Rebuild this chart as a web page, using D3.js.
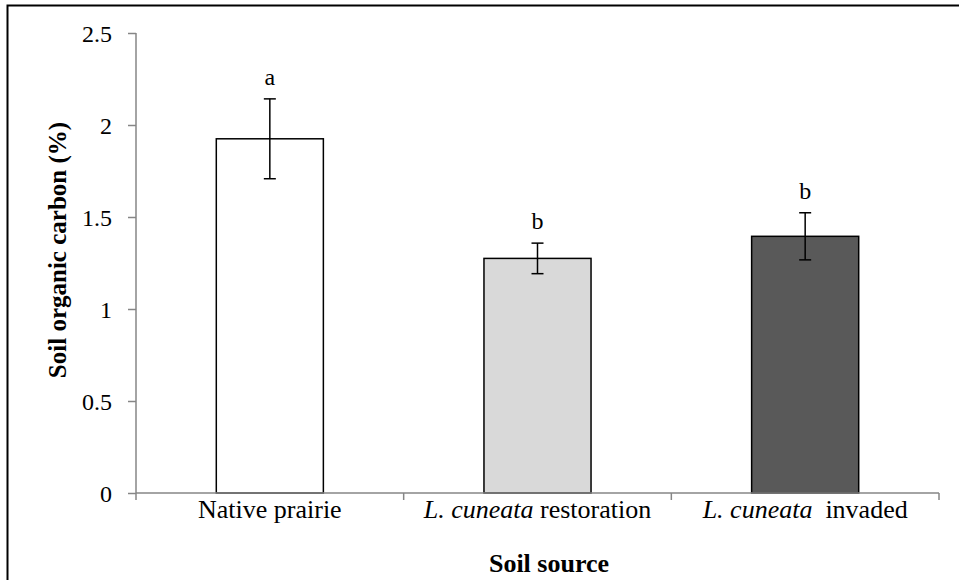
<!DOCTYPE html>
<html>
<head>
<meta charset="utf-8">
<script src="https://cdn.jsdelivr.net/npm/d3@7"></script>
<style>
  body { margin: 0; background: #fff; }
  text { font-family: "Liberation Serif", "Times New Roman", serif; fill: #000; }
</style>
</head>
<body>
<div id="chart-area"></div>
<script>
// data
var categories = ["Native prairie", "L. cuneata restoration", "L. cuneata invaded"];
var soc = [1.925, 1.275, 1.395];
var socErr = [0.217, 0.083, 0.128];
var letters = ["a", "b", "b"];
var barColours = ["#ffffff", "#d9d9d9", "#595959"];
var yTicks = [0, 0.5, 1, 1.5, 2, 2.5];

var width = 959, height = 580;
var margin = {top: 33, bottom: 87, left: 136, right: 20};

var svg = d3.select("#chart-area").append("svg")
    .attr("width", width)
    .attr("height", height);

// outer frame (cropped at right and bottom)
svg.append("rect")
    .attr("x", 7.5).attr("y", 5.5)
    .attr("width", 1000).attr("height", 1000)
    .attr("fill", "none")
    .attr("stroke", "#000")
    .attr("stroke-width", 2);

var x = d3.scaleBand()
    .domain(categories)
    .range([margin.left, width - margin.right])
    .paddingInner(0)
    .paddingOuter(0);

var y = d3.scaleLinear()
    .domain([0, 2.5])
    .range([height - margin.bottom, margin.top]);

var barW = x.bandwidth() * 0.4;

// bars
svg.selectAll("rect.bar")
    .data(categories)
    .enter().append("rect")
    .attr("class", "bar")
    .attr("x", (d) => x(d) + x.bandwidth() / 2 - barW / 2)
    .attr("y", (d, i) => y(soc[i]))
    .attr("width", barW)
    .attr("height", (d, i) => y(0) - y(soc[i]))
    .attr("fill", (d, i) => barColours[i])
    .attr("stroke", "#000")
    .attr("stroke-width", 1.5);

// error bars
var eb = svg.selectAll("g.err")
    .data(categories)
    .enter().append("g")
    .attr("class", "err")
    .attr("stroke", "#000")
    .attr("stroke-width", 1.5);

eb.append("line")
    .attr("x1", (d) => x(d) + x.bandwidth() / 2)
    .attr("x2", (d) => x(d) + x.bandwidth() / 2)
    .attr("y1", (d, i) => y(soc[i] + socErr[i]))
    .attr("y2", (d, i) => y(soc[i] - socErr[i]));
[1, -1].forEach((s) => {
    eb.append("line")
        .attr("x1", (d) => x(d) + x.bandwidth() / 2 - 6)
        .attr("x2", (d) => x(d) + x.bandwidth() / 2 + 6)
        .attr("y1", (d, i) => y(soc[i] + s * socErr[i]))
        .attr("y2", (d, i) => y(soc[i] + s * socErr[i]));
});

// significance letters
svg.selectAll("text.letter")
    .data(categories)
    .enter().append("text")
    .attr("class", "letter")
    .attr("x", (d) => x(d) + x.bandwidth() / 2)
    .attr("y", (d, i) => y(soc[i] + socErr[i]) - 14)
    .attr("text-anchor", "middle")
    .attr("font-size", "24px")
    .text((d, i) => letters[i]);

// y axis
var leftAxis = d3.axisLeft(y)
    .tickValues(yTicks)
    .tickSize(8)
    .tickPadding(16)
    .tickFormat((d) => d3.format("")(d));
var gy = svg.append("g")
    .attr("transform", "translate(" + margin.left + ",0)")
    .call(leftAxis);
gy.attr("font-size", null).attr("font-family", null);
gy.selectAll("path, line").attr("stroke", "#868686").attr("stroke-width", 1.5);
gy.select(".domain").attr("d", "M0," + y(2.5) + "V" + y(0));
gy.selectAll("text").attr("font-size", "24px").attr("dy", "0.35em");

// x axis
var gx = svg.append("g")
    .attr("transform", "translate(0," + y(0) + ")");
gx.append("line")
    .attr("x1", margin.left).attr("x2", width - margin.right)
    .attr("stroke", "#868686").attr("stroke-width", 1.5);
var bounds = [margin.left].concat(categories.map((d) => x(d) + x.bandwidth()));
gx.selectAll("line.tick")
    .data(bounds)
    .enter().append("line")
    .attr("class", "tick")
    .attr("x1", (d) => d).attr("x2", (d) => d)
    .attr("y1", 0).attr("y2", 7)
    .attr("stroke", "#868686").attr("stroke-width", 1.5);

var labelParts = [
    [["Native prairie", false]],
    [["L. cuneata", true], [" restoration", false]],
    [["L. cuneata", true], ["  invaded", false]]
];
var xl = gx.selectAll("text.xlab")
    .data(categories)
    .enter().append("text")
    .attr("class", "xlab")
    .attr("x", (d) => x(d) + x.bandwidth() / 2)
    .attr("y", 25)
    .attr("text-anchor", "middle")
    .attr("font-size", "26px")
    .style("white-space", "pre");
xl.each(function (d, i) {
    var t = d3.select(this);
    labelParts[i].forEach((p) => {
        t.append("tspan")
            .attr("font-style", p[1] ? "italic" : "normal")
            .text(p[0]);
    });
});

// axis titles
svg.append("text")
    .attr("x", 549)
    .attr("y", 572)
    .attr("text-anchor", "middle")
    .attr("font-size", "26px")
    .attr("font-weight", "bold")
    .text("Soil source");

svg.append("text")
    .attr("transform", "translate(66,250) rotate(-90)")
    .attr("text-anchor", "middle")
    .attr("font-size", "25px")
    .attr("font-weight", "bold")
    .text("Soil organic carbon (%)");
</script>
</body>
</html>
